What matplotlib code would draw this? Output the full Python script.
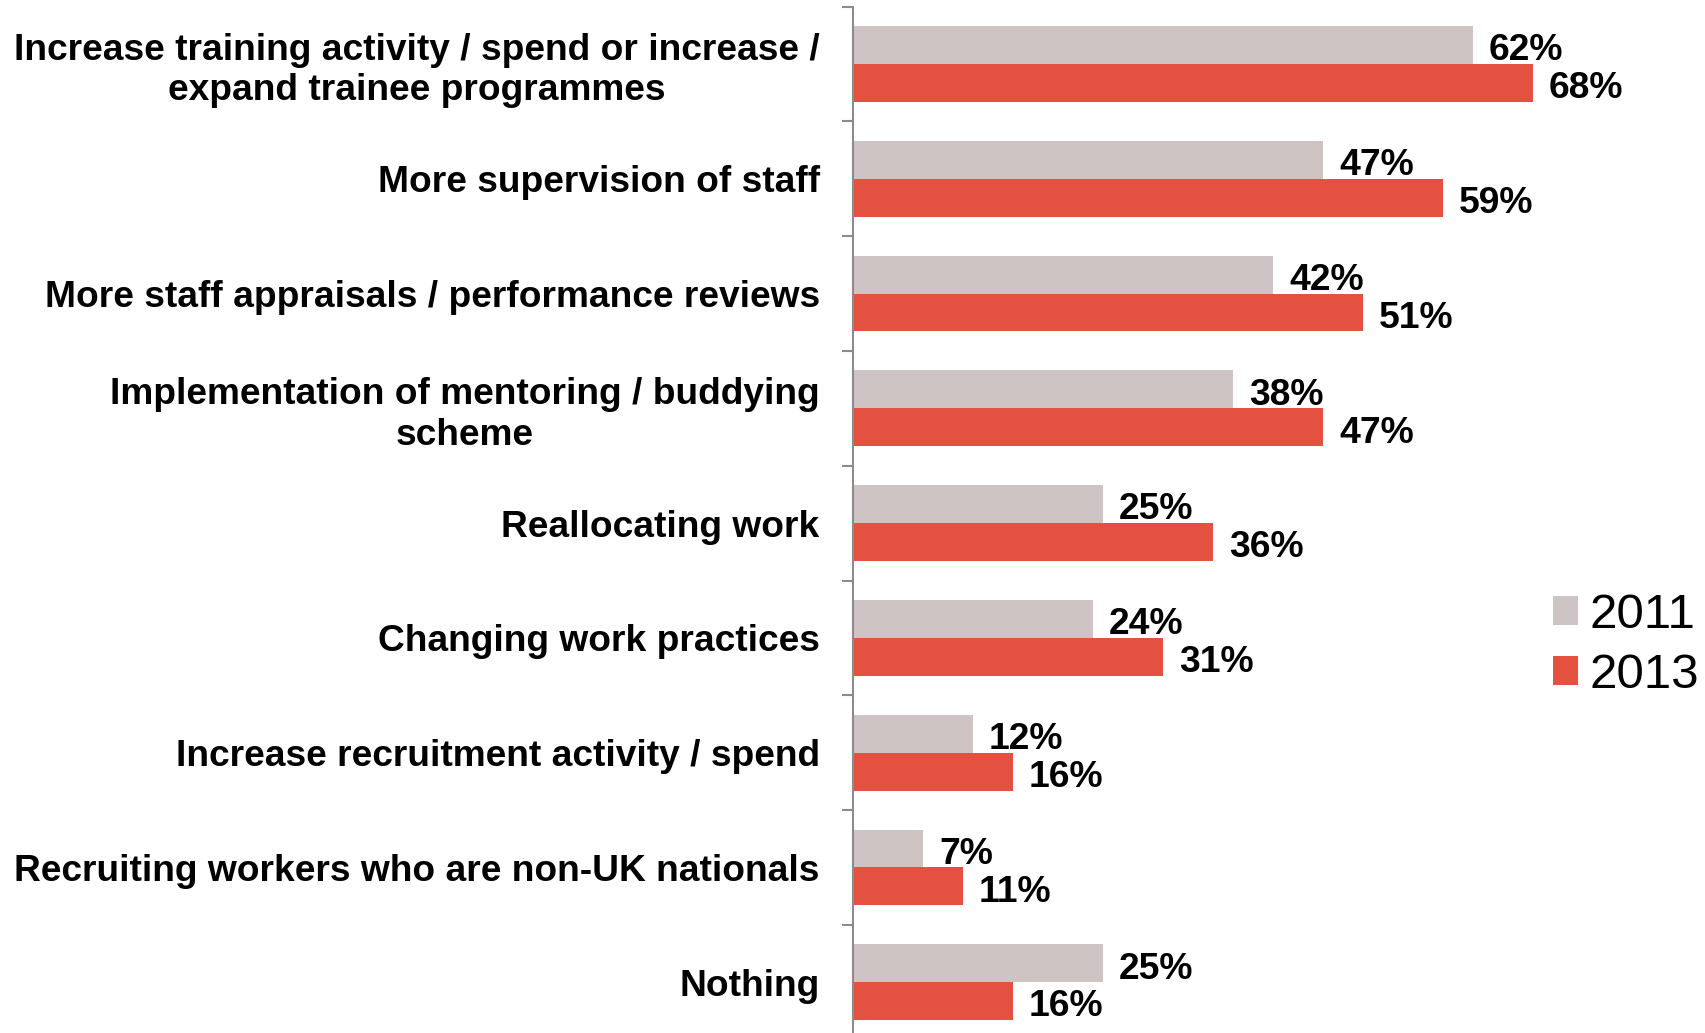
import matplotlib
matplotlib.use("Agg")
import matplotlib.pyplot as plt
import numpy as np

plt.rcParams['font.family'] = ['Liberation Sans', 'DejaVu Sans']

categories = [
    "Increase training activity / spend or increase /\nexpand trainee programmes",
    "More supervision of staff",
    "More staff appraisals / performance reviews",
    "Implementation of mentoring / buddying\nscheme",
    "Reallocating work",
    "Changing work practices",
    "Increase recruitment activity / spend",
    "Recruiting workers who are non-UK nationals",
    "Nothing",
]
years = ["2011", "2013"]
vals_2011 = [62, 47, 42, 38, 25, 24, 12, 7, 25]
vals_2013 = [68, 59, 51, 47, 36, 31, 16, 11, 16]

col_2011 = "#CFC4C4"
col_2013 = "#E55140"

fig = plt.figure(figsize=(17.05, 10.33), dpi=100)
ax = fig.add_axes([0.5003, -0.0064, 0.4997, 1.0])

y = np.arange(len(categories))
h = 0.33
b1 = ax.barh(y - h / 2, vals_2011, height=h, color=col_2011, label=years[0])
b2 = ax.barh(y + h / 2, vals_2013, height=h, color=col_2013, label=years[1])

for bars, vals in ((b1, vals_2011), (b2, vals_2013)):
    for bar, v in zip(bars, vals):
        ax.text(v + 1.6, bar.get_y() + bar.get_height() / 2 + 0.05, f"{v}%",
                ha="left", va="center", fontsize=26.8, fontweight="bold")

ax.set_xlim(0, 85.2)
ax.set_ylim(len(categories) - 0.5, -0.5)

# category labels sit between boundary ticks
ax.set_yticks(y, labels=categories)
ax.tick_params(axis="y", which="major", length=0, pad=24, labelsize=26.75)
for lab in ax.get_yticklabels():
    lab.set_fontweight("bold")
    lab.set_multialignment("center")
ax.set_yticks(np.arange(-0.5, len(categories) + 0.5, 1), minor=True)
ax.tick_params(axis="y", which="minor", length=8, width=1.5, color="#8C8C8C", direction="out")

ax.set_xticks([])
for s in ("top", "right", "bottom"):
    ax.spines[s].set_visible(False)
ax.spines["left"].set_color("#8C8C8C")
ax.spines["left"].set_linewidth(1.5)

fig.legend(handles=[b1, b2], labels=years, loc="center left",
           bbox_to_anchor=(0.899, 0.375), frameon=False, fontsize=35.5,
           handlelength=0.52, handleheight=0.52, handletextpad=0.22,
           labelspacing=0.3, borderaxespad=0)

fig.savefig("out.png", dpi=100)
